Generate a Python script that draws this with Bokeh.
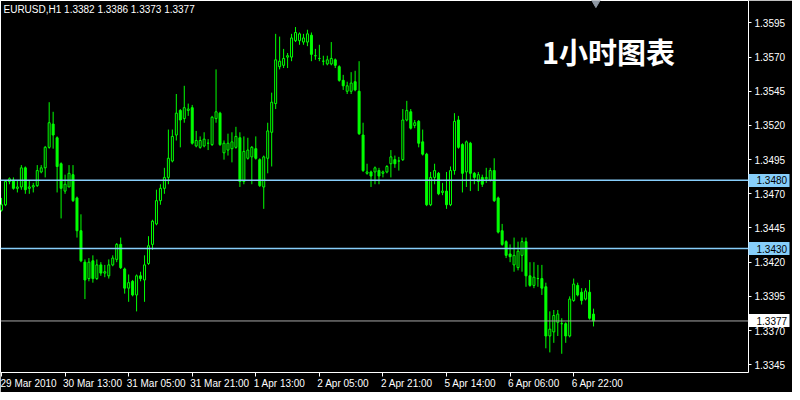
from bokeh.plotting import figure
from bokeh.models import Label, Span, FixedTicker, Range1d, ColumnDataSource, LinearAxis
from bokeh.embed import file_html
from bokeh.resources import INLINE

symbol = "EURUSD,H1"
title_cn = "1小时图表"

opens = [1.3458, 1.3462, 1.3479, 1.3480, 1.3474, 1.3475, 1.3489, 1.3474, 1.3475, 1.3476,
         1.3486, 1.3489, 1.3504, 1.3521, 1.3511, 1.3492, 1.3472, 1.3475, 1.3484, 1.3467,
         1.3443, 1.3420, 1.3408, 1.3421, 1.3408, 1.3418, 1.3412, 1.3410, 1.3418, 1.3422,
         1.3433, 1.3415, 1.3401, 1.3406, 1.3396, 1.3410, 1.3407, 1.3419, 1.3433, 1.3448,
         1.3465, 1.3474, 1.3482, 1.3494, 1.3513, 1.3531, 1.3525, 1.3531, 1.3533, 1.3505,
         1.3504, 1.3505, 1.3507, 1.3506, 1.3525, 1.3529, 1.3500, 1.3502, 1.3503, 1.3504,
         1.3511, 1.3479, 1.3496, 1.3497, 1.3503, 1.3495, 1.3475, 1.3496, 1.3515, 1.3536,
         1.3563, 1.3564, 1.3570, 1.3570, 1.3582, 1.3582, 1.3581, 1.3581, 1.3586, 1.3571,
         1.3569, 1.3567, 1.3565, 1.3565, 1.3568, 1.3563, 1.3553, 1.3545, 1.3545, 1.3552,
         1.3545, 1.3513, 1.3485, 1.3486, 1.3486, 1.3487, 1.3485, 1.3486, 1.3492, 1.3495,
         1.3494, 1.3495, 1.3524, 1.3530, 1.3520, 1.3523, 1.3508, 1.3499, 1.3462, 1.3482,
         1.3485, 1.3471, 1.3472, 1.3462, 1.3487, 1.3524, 1.3506, 1.3486, 1.3507, 1.3485,
         1.3479, 1.3482, 1.3481, 1.3480, 1.3487, 1.3467, 1.3443, 1.3435, 1.3426, 1.3418,
         1.3416, 1.3425, 1.3435, 1.3410, 1.3403, 1.3408, 1.3408, 1.3402, 1.3366, 1.3369,
         1.3376, 1.3375, 1.3375, 1.3366, 1.3392, 1.3403, 1.3398, 1.3393, 1.3398, 1.3382]

highs = [1.3467, 1.3480, 1.3482, 1.3482, 1.3480, 1.3491, 1.3490, 1.3480, 1.3478, 1.3491,
         1.3491, 1.3505, 1.3537, 1.3530, 1.3512, 1.3493, 1.3484, 1.3491, 1.3491, 1.3468,
         1.3455, 1.3422, 1.3423, 1.3425, 1.3422, 1.3420, 1.3418, 1.3422, 1.3425, 1.3434,
         1.3438, 1.3416, 1.3411, 1.3407, 1.3411, 1.3413, 1.3425, 1.3439, 1.3451, 1.3473,
         1.3477, 1.3489, 1.3517, 1.3517, 1.3543, 1.3532, 1.3549, 1.3536, 1.3535, 1.3516,
         1.3512, 1.3515, 1.3510, 1.3527, 1.3561, 1.3530, 1.3509, 1.3514, 1.3515, 1.3519,
         1.3515, 1.3512, 1.3511, 1.3505, 1.3512, 1.3496, 1.3498, 1.3522, 1.3544, 1.3587,
         1.3585, 1.3576, 1.3573, 1.3587, 1.3592, 1.3588, 1.3587, 1.3590, 1.3588, 1.3576,
         1.3579, 1.3571, 1.3571, 1.3581, 1.3569, 1.3564, 1.3557, 1.3552, 1.3559, 1.3560,
         1.3567, 1.3522, 1.3492, 1.3487, 1.3490, 1.3489, 1.3487, 1.3491, 1.3502, 1.3498,
         1.3497, 1.3532, 1.3538, 1.3532, 1.3524, 1.3524, 1.3517, 1.3500, 1.3486, 1.3492,
         1.3486, 1.3478, 1.3486, 1.3490, 1.3529, 1.3527, 1.3507, 1.3509, 1.3508, 1.3486,
         1.3486, 1.3484, 1.3489, 1.3489, 1.3496, 1.3468, 1.3448, 1.3436, 1.3433, 1.3438,
         1.3435, 1.3438, 1.3438, 1.3420, 1.3420, 1.3418, 1.3418, 1.3405, 1.3384, 1.3385,
         1.3385, 1.3379, 1.3376, 1.3395, 1.3408, 1.3405, 1.3401, 1.3401, 1.3407, 1.3386]

lows = [1.3457, 1.3461, 1.3477, 1.3473, 1.3471, 1.3473, 1.3470, 1.3470, 1.3471, 1.3475,
        1.3485, 1.3482, 1.3503, 1.3503, 1.3471, 1.3452, 1.3470, 1.3475, 1.3464, 1.3438,
        1.3420, 1.3393, 1.3406, 1.3405, 1.3407, 1.3410, 1.3409, 1.3408, 1.3417, 1.3420,
        1.3415, 1.3397, 1.3391, 1.3395, 1.3384, 1.3406, 1.3391, 1.3418, 1.3429, 1.3447,
        1.3462, 1.3470, 1.3477, 1.3493, 1.3509, 1.3504, 1.3522, 1.3527, 1.3506, 1.3504,
        1.3503, 1.3504, 1.3502, 1.3505, 1.3522, 1.3505, 1.3495, 1.3498, 1.3493, 1.3503,
        1.3475, 1.3477, 1.3495, 1.3477, 1.3495, 1.3475, 1.3459, 1.3485, 1.3490, 1.3532,
        1.3561, 1.3562, 1.3562, 1.3567, 1.3581, 1.3579, 1.3579, 1.3578, 1.3567, 1.3568,
        1.3567, 1.3564, 1.3564, 1.3564, 1.3562, 1.3552, 1.3546, 1.3543, 1.3543, 1.3545,
        1.3513, 1.3486, 1.3484, 1.3475, 1.3477, 1.3477, 1.3482, 1.3485, 1.3482, 1.3489,
        1.3487, 1.3494, 1.3523, 1.3517, 1.3518, 1.3504, 1.3498, 1.3461, 1.3461, 1.3477,
        1.3469, 1.3469, 1.3459, 1.3461, 1.3484, 1.3503, 1.3471, 1.3475, 1.3472, 1.3477,
        1.3472, 1.3475, 1.3478, 1.3479, 1.3464, 1.3441, 1.3432, 1.3423, 1.3420, 1.3413,
        1.3414, 1.3413, 1.3402, 1.3402, 1.3401, 1.3402, 1.3396, 1.3357, 1.3354, 1.3361,
        1.3366, 1.3353, 1.3361, 1.3365, 1.3391, 1.3395, 1.3389, 1.3392, 1.3378, 1.3373]

closes = [1.3462, 1.3479, 1.3481, 1.3474, 1.3475, 1.3489, 1.3473, 1.3475, 1.3476, 1.3487,
          1.3489, 1.3504, 1.3522, 1.3513, 1.3490, 1.3474, 1.3477, 1.3485, 1.3465, 1.3443,
          1.3421, 1.3407, 1.3420, 1.3408, 1.3418, 1.3412, 1.3413, 1.3418, 1.3423, 1.3433,
          1.3416, 1.3401, 1.3405, 1.3396, 1.3410, 1.3408, 1.3418, 1.3432, 1.3450, 1.3465,
          1.3474, 1.3482, 1.3496, 1.3512, 1.3529, 1.3524, 1.3533, 1.3532, 1.3507, 1.3509,
          1.3509, 1.3510, 1.3507, 1.3526, 1.3530, 1.3506, 1.3507, 1.3507, 1.3508, 1.3512,
          1.3479, 1.3501, 1.3502, 1.3504, 1.3496, 1.3476, 1.3497, 1.3516, 1.3537, 1.3568,
          1.3567, 1.3569, 1.3571, 1.3584, 1.3588, 1.3587, 1.3584, 1.3587, 1.3572, 1.3571,
          1.3569, 1.3567, 1.3568, 1.3569, 1.3564, 1.3553, 1.3549, 1.3549, 1.3551, 1.3546,
          1.3514, 1.3487, 1.3486, 1.3483, 1.3489, 1.3483, 1.3486, 1.3490, 1.3497, 1.3492,
          1.3494, 1.3524, 1.3531, 1.3518, 1.3522, 1.3507, 1.3499, 1.3462, 1.3482, 1.3487,
          1.3470, 1.3472, 1.3462, 1.3487, 1.3523, 1.3504, 1.3485, 1.3508, 1.3485, 1.3482,
          1.3484, 1.3477, 1.3482, 1.3487, 1.3465, 1.3442, 1.3433, 1.3425, 1.3424, 1.3425,
          1.3428, 1.3435, 1.3410, 1.3403, 1.3409, 1.3408, 1.3401, 1.3366, 1.3371, 1.3381,
          1.3382, 1.3375, 1.3366, 1.3393, 1.3404, 1.3396, 1.3392, 1.3399, 1.3379, 1.3377]

time_tick_bars = [0, 16, 32, 48, 64, 80, 96, 112, 128, 144]
time_tick_labels = ["29 Mar 2010", "30 Mar 13:00", "31 Mar 05:00", "31 Mar 21:00",
                    "1 Apr 13:00", "2 Apr 05:00", "2 Apr 21:00", "5 Apr 14:00",
                    "6 Apr 06:00", "6 Apr 22:00"]
price_ticks = [1.3345, 1.3370, 1.3395, 1.3420, 1.3445, 1.3470, 1.3495,
               1.3520, 1.3545, 1.3570, 1.3595]
level_lines = [1.3480, 1.3430]
bid_price = closes[-1]

LIME = "#00ff00"
LEVEL_BLUE = "#87cefa"
FONT = "Liberation Sans"
FONT_PX = 10
FRAME_W, FRAME_H = 748, 372
X0, X1 = -0.25, 188.0
Y0, Y1 = 1.33393, 1.36114

n = len(closes)
idx = list(range(n))
bull = [c >= o for o, c in zip(opens, closes)]
src = ColumnDataSource(dict(
    x=idx, o=opens, h=highs, l=lows, c=closes,
    top=[max(o, c) for o, c in zip(opens, closes)],
    bottom=[min(o, c) for o, c in zip(opens, closes)],
    fill=["black" if b else LIME for b in bull],
))

p = figure(frame_width=FRAME_W, frame_height=FRAME_H, output_backend="svg",
           toolbar_location=None, y_axis_location="right",
           x_range=Range1d(X0, X1), y_range=Range1d(Y0, Y1),
           min_border_left=0, min_border_top=0, min_border_right=44, min_border_bottom=20)
p.background_fill_color = "black"
p.border_fill_color = "black"
p.outline_line_color = "white"
p.outline_line_width = 1
p.grid.visible = False

p.segment(x0="x", y0="h", x1="x", y1="l", source=src, line_color=LIME, line_width=1)
p.vbar(x="x", top="top", bottom="bottom", width=0.5, source=src,
       fill_color="fill", line_color=LIME, line_width=1)

for lv in level_lines:
    p.add_layout(Span(location=lv, dimension="width", line_color=LEVEL_BLUE, line_width=1.5))
p.add_layout(Span(location=bid_price, dimension="width", line_color="#a8a8a8", line_width=1))

FMT = "{:.4f}"

# y axis (right): price scale
ya = p.yaxis[0]
ya.ticker = FixedTicker(ticks=price_ticks)
ya.major_label_overrides = {t: FMT.format(t) for t in price_ticks}
ya.axis_line_color = None
ya.major_tick_line_color = "white"
ya.major_tick_out = 3
ya.major_tick_in = 0
ya.minor_tick_line_color = None
ya.major_label_text_color = "white"
ya.major_label_text_font = FONT
ya.major_label_text_font_size = f"{FONT_PX}px"
ya.major_label_standoff = 3


def box_axis(levels, color):
    # inner, zero-width axis whose wide outward tick marks form the price tags
    ax = LinearAxis(ticker=FixedTicker(ticks=levels),
                    major_label_overrides={lv: "" for lv in levels})
    ax.axis_line_color = None
    ax.minor_tick_line_color = None
    ax.major_tick_line_color = color
    ax.major_tick_line_width = 13
    ax.major_tick_in = -41
    ax.major_tick_out = 0
    ax.major_label_standoff = 0
    ax.major_label_text_font_size = "1px"
    return ax


# outer axis (no width of its own) that writes the tag values, in black, over the boxes
tag_levels = level_lines + [bid_price]
tag_text = LinearAxis(ticker=FixedTicker(ticks=tag_levels),
                      major_label_overrides={lv: FMT.format(lv) for lv in tag_levels})
tag_text.axis_line_color = None
tag_text.minor_tick_line_color = None
tag_text.major_tick_line_color = None
tag_text.major_tick_in = 0
tag_text.major_tick_out = 0
tag_text.major_label_standoff = -32
tag_text.major_label_text_color = "black"
tag_text.major_label_text_font = FONT
tag_text.major_label_text_font_size = f"{FONT_PX}px"

p.right = [box_axis(level_lines, LEVEL_BLUE), box_axis([bid_price], "white")] \
    + list(p.right) + [tag_text]

# x axis (below): tick marks only
xa = p.xaxis[0]
xa.ticker = FixedTicker(ticks=time_tick_bars)
xa.major_label_overrides = {t: "" for t in time_tick_bars}
xa.axis_line_color = None
xa.major_tick_line_color = "white"
xa.major_tick_line_width = 1
xa.major_tick_out = 4
xa.major_tick_in = 0
xa.minor_tick_line_color = None
xa.major_label_text_font_size = "1px"
xa.major_label_standoff = 0

# second x axis carrying the time labels, left-aligned at their tick like MT4:
# each label centre is shifted right by half its (Arial-metric) text width
ARIAL_W = {"0": 556, "1": 556, "2": 556, "3": 556, "4": 556, "5": 556, "6": 556,
           "7": 556, "8": 556, "9": 556, " ": 278, ":": 278, "M": 833, "a": 556,
           "r": 333, "A": 667, "p": 556}
px_per_bar = FRAME_W / (X1 - X0)
label_pos = []
for t, lab in zip(time_tick_bars, time_tick_labels):
    w = sum(ARIAL_W.get(ch, 556) for ch in lab) * FONT_PX / 1000.0
    label_pos.append(t + (w / 2.0 - 2.0) / px_per_bar)
xa2 = LinearAxis(ticker=FixedTicker(ticks=label_pos),
                 major_label_overrides={pos: lab for pos, lab in zip(label_pos, time_tick_labels)})
xa2.axis_line_color = None
xa2.major_tick_line_color = None
xa2.minor_tick_line_color = None
xa2.major_tick_out = 0
xa2.major_tick_in = 0
xa2.major_label_standoff = 1
xa2.major_label_text_color = "white"
xa2.major_label_text_font = FONT
xa2.major_label_text_font_size = f"{FONT_PX}px"
p.add_layout(xa2, "below")

# header
header = f"{symbol}  {opens[-1]:.4f} {highs[-1]:.4f} {lows[-1]:.4f} {closes[-1]:.4f}"
p.add_layout(Label(x=3, y=FRAME_H - 3, x_units="screen", y_units="screen",
                   text=header, text_align="left", text_baseline="top",
                   text_color="white", text_font=FONT, text_font_size=f"{FONT_PX}px"))

# big title
p.add_layout(Label(x=152.75, y=1.35743, text=title_cn, text_align="center",
                   text_baseline="middle", text_color="white",
                   text_font="Noto Sans CJK SC", text_font_style="bold",
                   text_font_size="29px"))

# chart shift marker
p.scatter(x=[n - 1 + 0.6], y=[1.36100], marker="inverted_triangle", size=9,
          fill_color="#8f98a3", line_color="#8f98a3")

open("out.html", "w").write(file_html(p, INLINE))
